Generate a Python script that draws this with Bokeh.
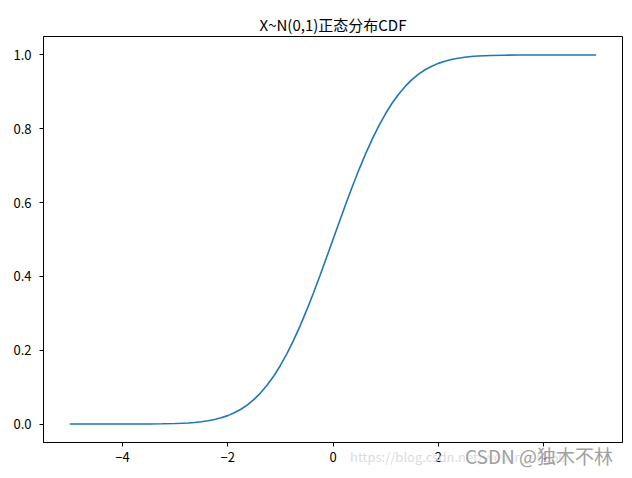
from bokeh.plotting import figure
from bokeh.models import FixedTicker, PrintfTickFormatter, Range1d, Div
from bokeh.layouts import column
from bokeh.embed import file_html
from bokeh.resources import INLINE

# values
x_vals = [-5.0, -4.5, -4.0, -3.5, -3.25,
          -3.0, -2.875, -2.75, -2.625, -2.5, -2.375, -2.25, -2.125,
          -2.0, -1.875, -1.75, -1.625, -1.5, -1.375, -1.25, -1.125,
          -1.0, -0.875, -0.75, -0.625, -0.5, -0.375, -0.25, -0.125,
          0.0, 0.125, 0.25, 0.375, 0.5, 0.625, 0.75, 0.875,
          1.0, 1.125, 1.25, 1.375, 1.5, 1.625, 1.75, 1.875,
          2.0, 2.125, 2.25, 2.375, 2.5, 2.625, 2.75, 2.875,
          3.0, 3.25, 3.5, 4.0, 4.5, 5.0]
y_vals = [0.0, 0.0, 0.0, 0.0002, 0.0006,
          0.0013, 0.0020, 0.0030, 0.0043, 0.0062, 0.0088, 0.0122, 0.0168,
          0.0228, 0.0304, 0.0401, 0.0521, 0.0668, 0.0846, 0.1056, 0.1303,
          0.1587, 0.1908, 0.2266, 0.2660, 0.3085, 0.3538, 0.4013, 0.4503,
          0.5, 0.5497, 0.5987, 0.6462, 0.6915, 0.7340, 0.7734, 0.8092,
          0.8413, 0.8697, 0.8944, 0.9154, 0.9332, 0.9479, 0.9599, 0.9696,
          0.9772, 0.9832, 0.9878, 0.9912, 0.9938, 0.9957, 0.9970, 0.9980,
          0.9987, 0.9994, 0.9998, 1.0, 1.0, 1.0]
x_ticks = [-4, -2, 0, 2, 4]
y_ticks = [0.0, 0.2, 0.4, 0.6, 0.8, 1.0]
title_text = "X~N(0,1)正态分布CDF"
watermark_url = "https://blog.csdn.net/weixin_46366"
watermark_name = "CSDN @独木不林"
font = "Noto Sans CJK SC"

p = figure(width=632, height=478, output_backend="svg", toolbar_location=None,
           x_range=Range1d(-5.5, 5.5), y_range=Range1d(-0.05, 1.05),
           min_border_left=43, min_border_right=10, min_border_top=36, min_border_bottom=36)
p.title.text = title_text
p.title.align = "center"
p.title.text_font = font
p.title.text_font_size = "15px"
p.title.text_font_style = "normal"
p.title.text_color = "black"
p.title.offset = 0
p.title.standoff = 3

p.line(x_vals, y_vals, line_color="#1f77b4", line_width=1.6)

p.grid.visible = False
p.outline_line_color = "black"
p.outline_line_width = 1
p.outline_line_alpha = 1
for ax in (p.xaxis, p.yaxis):
    ax.axis_line_color = "black"
    ax.major_tick_line_color = "black"
    ax.major_tick_out = 4
    ax.major_tick_in = 0
    ax.minor_tick_line_color = None
    ax.major_label_text_font = font
    ax.major_label_text_font_size = "13px"
    ax.major_label_text_color = "black"
p.xaxis.ticker = FixedTicker(ticks=x_ticks)
p.yaxis.ticker = FixedTicker(ticks=y_ticks)
p.yaxis.formatter = PrintfTickFormatter(format="%.1f")
p.xaxis.major_label_standoff = 5
p.yaxis.major_label_standoff = 8

wm_html = (
    '<div style="position:relative;width:632px;height:28px;font-family:\'Noto Sans CJK SC\';">'
    '<span style="position:absolute;left:350px;top:4px;font-size:13px;color:#dcdcdc;white-space:nowrap;">'
    + watermark_url + '</span>'
    '<span style="position:absolute;left:465px;top:-2px;font-size:19px;color:#a0a0a0;white-space:nowrap;'
    'text-shadow:0 0 2px #fff,0 0 2px #fff;">' + watermark_name + '</span></div>'
)
wm = Div(text=wm_html, width=632, height=28, margin=(-34, 0, 0, 0))

open("out.html", "w").write(file_html(column(p, wm, spacing=0), INLINE))
